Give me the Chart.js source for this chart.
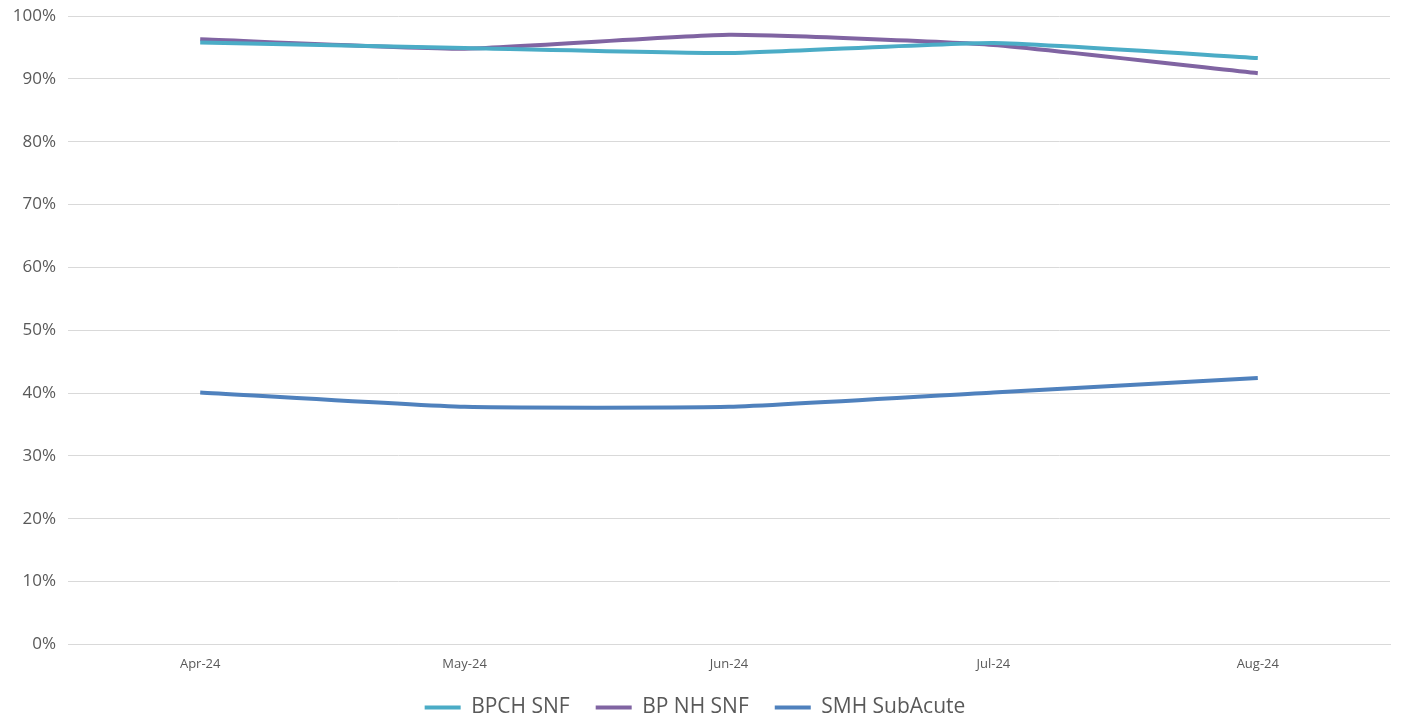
<!DOCTYPE html>
<html>
<head>
<meta charset="utf-8">
<script src="https://cdn.jsdelivr.net/npm/chart.js@4/dist/chart.umd.min.js"></script>
<style>
  html, body { margin: 0; padding: 0; background: #fff; }
  #wrap { width: 1402px; height: 719px; }
</style>
</head>
<body>
<div id="wrap"><canvas id="lineChart"></canvas></div>
<script>
// values, in percent
const months = ['Apr-24', 'May-24', 'Jun-24', 'Jul-24', 'Aug-24'];
const bpchSnf = [95.8, 94.9, 94.1, 95.7, 93.3];
const bpNhSnf = [96.3, 94.8, 97.0, 95.4, 90.9];
const smhSubAcute = [40.1, 37.8, 37.8, 40.1, 42.4];

const line = document.getElementById('lineChart');

// wide gaps between legend items but a shorter legend box
const shortLegend = {
  id: 'shortLegend',
  beforeLayout(chart) {
    const lg = chart.legend;
    if (lg && !lg._short) {
      const fit = lg.fit;
      lg.fit = function () { fit.call(this); this.height -= 9; };
      lg._short = true;
    }
  }
};

const lineChart = new Chart(line, {
  type: 'line',
  data: {
    labels: months,
    datasets: [{
      label: 'BPCH SNF',
      data: bpchSnf,
      borderColor: '#4bacc6',
      backgroundColor: '#4bacc6',
      borderWidth: 4,
      tension: 0.15,
      pointRadius: 0,
      fill: false
    }, {
      label: 'BP NH SNF',
      data: bpNhSnf,
      borderColor: '#8064a2',
      backgroundColor: '#8064a2',
      borderWidth: 4,
      tension: 0.15,
      pointRadius: 0,
      fill: false
    }, {
      label: 'SMH SubAcute',
      data: smhSubAcute,
      borderColor: '#4f81bd',
      backgroundColor: '#4f81bd',
      borderWidth: 4,
      tension: 0.15,
      pointRadius: 0,
      fill: false
    }]
  },
  plugins: [shortLegend],
  options: {
    responsive: true,
    maintainAspectRatio: false,
    animation: false,
    layout: { padding: { left: 0, right: 12, top: 16, bottom: 0 } },
    plugins: {
      tooltip: { enabled: false },
      legend: {
        position: 'bottom',
        labels: {
          boxWidth: 36,
          boxHeight: 4,
          padding: 26,
          color: '#595959',
          font: { family: 'Open Sans', size: 21 },
          generateLabels: function (chart) {
            return Chart.defaults.plugins.legend.labels.generateLabels(chart).map(function (l) {
              l.lineWidth = 0;
              return l;
            });
          }
        }
      }
    },
    scales: {
      x: {
        offset: true,
        grid: { display: false },
        border: { color: '#d9d9d9' },
        afterFit: function (scale) { scale.height -= 5; },
        ticks: {
          color: '#595959',
          padding: 4,
          font: { family: 'Open Sans', size: 13 }
        }
      },
      y: {
        min: 0,
        max: 100,
        grid: { color: '#d9d9d9', drawTicks: false },
        border: { display: false },
        afterFit: function (scale) { scale.width = 68; scale.paddingTop = 0; },
        ticks: {
          stepSize: 10,
          padding: 12,
          color: '#595959',
          font: { family: 'Open Sans', size: 17 },
          callback: function (v) { return v + '%'; }
        }
      }
    }
  }
});
</script>
</body>
</html>
